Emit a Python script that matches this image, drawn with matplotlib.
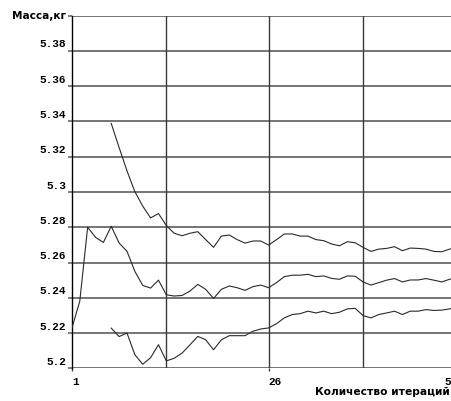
import matplotlib
matplotlib.use("Agg")
import matplotlib.pyplot as plt
import matplotlib.transforms as mtransforms

# iteration numbers and the three mass curves (kg)
iters_mid = list(range(1, 51))
mass_mid = [5.2228, 5.238, 5.280, 5.2743, 5.2714, 5.2806, 5.271, 5.2664, 5.255, 5.247,
            5.2455, 5.250, 5.2417, 5.241, 5.2413, 5.2438, 5.2476, 5.2448, 5.2396, 5.2448,
            5.2467, 5.2457, 5.2442, 5.2463, 5.2472, 5.2457, 5.2486, 5.252, 5.2528, 5.2528,
            5.2533, 5.252, 5.2524, 5.251, 5.2505, 5.2524, 5.2522, 5.249, 5.2472, 5.2486,
            5.25, 5.2509, 5.249, 5.2501, 5.2501, 5.2509, 5.25, 5.249, 5.2505, 5.2515]

iters_bounds = list(range(6, 51))
mass_upper = [5.3389, 5.3252, 5.312, 5.3002, 5.292, 5.2853, 5.2878, 5.281, 5.2766, 5.2752,
              5.2766, 5.2775, 5.273, 5.2686, 5.275, 5.2756, 5.273, 5.271, 5.2722, 5.2722,
              5.2699, 5.273, 5.2762, 5.2762, 5.275, 5.275, 5.273, 5.2724, 5.2705, 5.2695,
              5.2718, 5.2712, 5.2686, 5.2663, 5.2676, 5.268, 5.269, 5.2667, 5.2682, 5.268,
              5.2676, 5.2663, 5.2661, 5.2676, 5.269]
mass_lower = [5.2228, 5.218, 5.22, 5.2077, 5.2023, 5.206, 5.2134, 5.2042, 5.2057, 5.2086,
              5.2133, 5.2181, 5.2162, 5.2105, 5.2162, 5.2185, 5.2185, 5.2185, 5.221, 5.2223,
              5.2229, 5.2253, 5.2286, 5.2305, 5.231, 5.2324, 5.2314, 5.2324, 5.231, 5.2318,
              5.2337, 5.234, 5.2299, 5.2286, 5.2305, 5.2314, 5.2324, 5.2305, 5.2324, 5.2324,
              5.2333, 5.2328, 5.233, 5.2337, 5.235]

y_ticks = [5.2, 5.22, 5.24, 5.26, 5.28, 5.3, 5.32, 5.34, 5.36, 5.38, 5.4]
y_labels = ["5.2", "5.22", "5.24", "5.26", "5.28", "5.3", "5.32", "5.34", "5.36", "5.38", ""]
x_ticks = [1, 26, 50]
x_grid = [13, 26, 38]

fig = plt.figure(figsize=(4.52, 4.01), dpi=100)
ax = fig.add_axes([71.9 / 452, 32.7 / 401, 385.6 / 452, 352.6 / 401])

for y in y_ticks:
    ax.axhline(y, color="#6a6a6a", lw=1.3, zorder=1)
for x in x_grid:
    ax.axvline(x, color="#3a3a3a", lw=1.0, zorder=1)

ax.plot(iters_bounds, mass_upper, color="#2a2a2a", lw=0.8, zorder=3)
ax.plot(iters_mid, mass_mid, color="#2a2a2a", lw=0.8, zorder=3)
ax.plot(iters_bounds, mass_lower, color="#2a2a2a", lw=0.8, zorder=3)

ax.set_xlim(1, 50)
ax.set_ylim(5.2, 5.4)

for s in ["top", "right", "bottom"]:
    ax.spines[s].set_visible(False)
ax.spines["left"].set_color("black")
ax.spines["left"].set_linewidth(1.0)

ax.set_yticks(y_ticks)
ax.set_yticklabels(y_labels, family="Liberation Mono", weight="bold", fontsize=8)
ax.tick_params(axis="y", length=3, width=1.2, color="#6a6a6a", pad=1)
shift = mtransforms.ScaledTranslation(0, 2.5 / 72, fig.dpi_scale_trans)
for lab in ax.get_yticklabels():
    lab.set_va("baseline")
    lab.set_transform(lab.get_transform() + shift)

ax.set_xticks(x_ticks)
ax.set_xticklabels([str(v) for v in x_ticks], family="Liberation Mono", weight="bold", fontsize=8)
ax.tick_params(axis="x", length=2, width=1, color="#3a3a3a", pad=4)
xl = ax.get_xticklabels()
xl[0].set_ha("left")
xl[1].set_ha("left")
xl[2].set_ha("right")

fig.text(66 / 452, 1 - 16 / 401, "Масса,кг", ha="right", va="center",
         family="DejaVu Sans", weight="bold", fontsize=7.6)
fig.text(450 / 452, 1 - 392 / 401, "Количество итераций", ha="right", va="center",
         family="DejaVu Sans", weight="bold", fontsize=7.7)

fig.savefig("out.png", dpi=100)
